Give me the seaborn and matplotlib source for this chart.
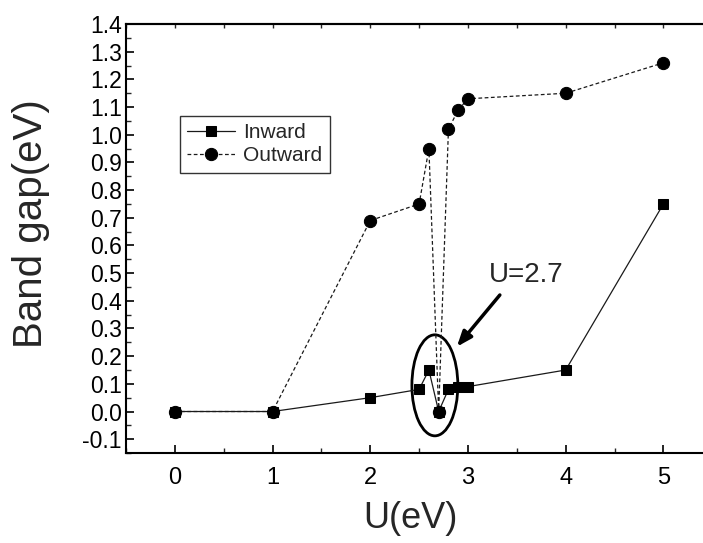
import numpy as np
import pandas as pd
import matplotlib
matplotlib.use("Agg")
import matplotlib.pyplot as plt
import seaborn as sns
from matplotlib.patches import Ellipse
from matplotlib.ticker import MultipleLocator

# ---- data ----
u_values = [0, 1, 2, 2.5, 2.6, 2.7, 2.8, 2.9, 3.0, 4, 5]
inward = [0.0, 0.0, 0.05, 0.08, 0.15, 0.0, 0.08, 0.09, 0.09, 0.15, 0.75]
outward = [0.0, 0.0, 0.69, 0.75, 0.95, 0.0, 1.02, 1.09, 1.13, 1.15, 1.26]
x_ticks = [0, 1, 2, 3, 4, 5]
y_ticks = [-0.1, 0.0, 0.1, 0.2, 0.3, 0.4, 0.5, 0.6, 0.7, 0.8, 0.9, 1.0, 1.1, 1.2, 1.3, 1.4]

sns.set_style("white")
plt.rcParams['font.family'] = ['Liberation Sans', 'DejaVu Sans']

fig = plt.figure(figsize=(7.03, 5.43), dpi=100)
ax = fig.add_axes([0.1792, 0.1657, 0.834, 0.790])

df_in = pd.DataFrame({"U": u_values, "gap": inward})
df_out = pd.DataFrame({"U": u_values, "gap": outward})

sns.lineplot(data=df_in, x="U", y="gap", ax=ax, sort=False, estimator=None,
             color="#1a1a1a", lw=0.9, marker="s", markersize=7.5,
             markeredgecolor="black", markerfacecolor="black", label="Inward")
sns.lineplot(data=df_out, x="U", y="gap", ax=ax, sort=False, estimator=None,
             color="#1a1a1a", lw=0.9, marker="o", markersize=8.8,
             markeredgecolor="black", markerfacecolor="black", label="Outward")
ax.lines[1].set_dashes([3, 2])

ax.set_xlim(-0.5, 5.5)
ax.set_ylim(-0.15, 1.4)
ax.set_xticks(x_ticks)
ax.set_yticks(y_ticks)
ax.set_yticklabels([f"{v:.1f}" for v in y_ticks])
ax.xaxis.set_minor_locator(MultipleLocator(0.5))
ax.yaxis.set_minor_locator(MultipleLocator(0.05))

for s in ax.spines.values():
    s.set_linewidth(1.5)
    s.set_color("black")

ax.tick_params(axis='both', which='major', direction='in', length=6, width=1.2,
               labelsize=16.5, colors='black')
ax.tick_params(axis='both', which='minor', direction='in', length=3.5, width=1.0)
ax.tick_params(axis='x', which='both', bottom=True, top=False)
ax.tick_params(axis='x', which='major', pad=10, labelsize=17)
ax.tick_params(axis='y', which='both', left=True, right=False)
ax.tick_params(axis='y', which='major', pad=3)

sec = ax.secondary_xaxis('top')
sec.set_xticks(np.arange(-0.5, 5.6, 0.5))
sec.tick_params(direction='in', length=3, width=1.0, labeltop=False)
sec.spines['top'].set_linewidth(1.5)

ax.set_xlabel("U(eV)", fontsize=26)
ax.set_ylabel("Band gap(eV)", fontsize=29)
ax.xaxis.set_label_coords(0.485, -0.113)
ax.yaxis.set_label_coords(-0.13, 0.534)

leg = ax.legend(loc="upper left", bbox_to_anchor=(0.092, 0.786), fontsize=15,
                frameon=True, fancybox=False, edgecolor="black",
                handlelength=2.3, borderpad=0.35, labelspacing=0.2,
                handletextpad=0.4, borderaxespad=0)
leg.get_frame().set_linewidth(1.0)

ell = Ellipse((2.661, 0.0946), 0.47, 0.365, fill=False, edgecolor="black", lw=2.0)
ax.add_patch(ell)

ax.annotate("", xy=(2.886, 0.234), xytext=(3.326, 0.421),
            arrowprops=dict(arrowstyle="-|>,head_length=0.9,head_width=0.35",
                            lw=2.5, color="black", shrinkA=0, shrinkB=0))
ax.text(3.60, 0.493, "U=2.7", fontsize=20, ha="center", va="center")

fig.savefig("out.png", dpi=100)
